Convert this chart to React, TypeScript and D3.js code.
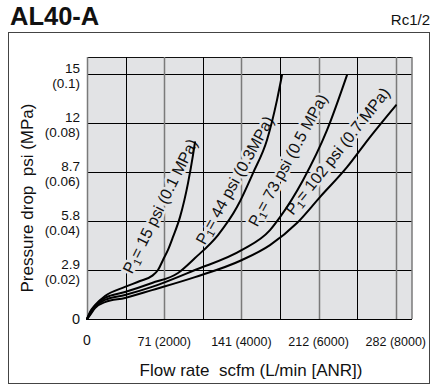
import React from "react";
import * as d3 from "d3";

const W = 431;
const H = 385;

// X: flow rate (L/min ANR), Y: pressure drop (MPa)
const xTicks = [0, 2000, 4000, 6000, 8000];
const xTickLabels = ["0", "71 (2000)", "141 (4000)", "212 (6000)", "282 (8000)"];
const xGrid = [1000, 2000, 3000, 4000, 5000, 6000, 7000, 8000];
const yTicks = [0, 0.02, 0.04, 0.06, 0.08, 0.1];
const yPsiLabels = ["0", "2.9", "5.8", "8.7", "12", "15"];
const yMpaLabels = ["", "(0.02)", "(0.04)", "(0.06)", "(0.08)", "(0.1)"];

const curveP01: [number, number][] = [
  [0, 0], [78, 0.0029], [207, 0.0057], [466, 0.0094], [984, 0.0131], [1373, 0.0155],
  [1684, 0.0176], [1839, 0.02], [1969, 0.0241], [2098, 0.0282], [2228, 0.0335],
  [2409, 0.0416], [2617, 0.0555], [2746, 0.0669], [2798, 0.0722],
];
const curveP03: [number, number][] = [
  [0, 0], [78, 0.0024], [207, 0.0053], [466, 0.0086], [984, 0.011], [1684, 0.0147],
  [2358, 0.0188], [2798, 0.0249], [3394, 0.0343], [3886, 0.0457], [4301, 0.0596],
  [4663, 0.0731], [4922, 0.0894], [5052, 0.0996],
];
const curveP05: [number, number][] = [
  [0, 0], [78, 0.002], [207, 0.0049], [466, 0.0078], [984, 0.0098], [1684, 0.0131],
  [2798, 0.02], [4016, 0.0282], [4741, 0.0363], [5000, 0.0416], [5596, 0.0567],
  [6218, 0.0771], [6736, 0.0996],
];
const curveP07: [number, number][] = [
  [0, 0], [78, 0.0016], [207, 0.0045], [466, 0.0069], [984, 0.0086], [1684, 0.0118],
  [2798, 0.0171], [4016, 0.0241], [4741, 0.0302], [5440, 0.0392], [6036, 0.0498],
  [6736, 0.062], [7332, 0.0743], [8005, 0.0873],
];
const curves = [curveP01, curveP03, curveP05, curveP07];

const labelPsi = ["15 psi (0.1 MPa)", "44 psi (0.3MPa)", "73 psi (0.5 MPa)", "102 psi (0.7 MPa)"];
const labelAt: [number, number][] = [
  [1890, 0.0461], [3822, 0.0567], [5200, 0.0649], [6490, 0.0686],
];
const labelAngle = [-63.5, -61, -61.5, -51.5];

const FONT = "'Liberation Sans', Arial, Helvetica, sans-serif";
const BG = "#e2e3e5";
const INK = "#111";

export default function App() {
  const x = d3.scaleLinear().domain([0, 8420]).range([87, 412]);
  const y = d3.scaleLinear().domain([0, 0.107]).range([319, 57]);
  const line = d3
    .line<[number, number]>()
    .x((d) => x(d[0]))
    .y((d) => y(d[1]))
    .curve(d3.curveMonotoneX);

  const [x0, x1] = x.range();
  const [y0, y1] = y.range();

  return (
    <svg
      width={W}
      height={H}
      style={{ position: "absolute", left: 0, top: 0, background: "#fff", fontFamily: FONT }}
    >
      <text x={10} y={25} fontFamily={FONT} fontSize={25.5} fontWeight="bold" fill={INK}>
        AL40-A
      </text>
      <text x={430} y={25} fontFamily={FONT} fontSize={15} textAnchor="end" fill={INK}>
        Rc1/2
      </text>
      <rect x={8.5} y={32.5} width={421} height={351} fill="none" stroke="#444" strokeWidth={1} />

      <rect x={x0} y={y1} width={x1 - x0} height={y0 - y1} fill={BG} />

      {yTicks.map((t) => (
        <line key={"h" + t} x1={x0} x2={x1} y1={Math.round(y(t)) + 0.5} y2={Math.round(y(t)) + 0.5} stroke="#000" strokeWidth={1} />
      ))}
      <line x1={x0} x2={x1} y1={y1 + 0.5} y2={y1 + 0.5} stroke="#111" strokeWidth={1} />
      {xGrid.map((t) => {
        const even = t % 2000 === 0;
        const px = Math.round(x(t)) + 0.5;
        return (
          <line key={"v" + t} x1={px} x2={px} y1={y1} y2={y0} stroke={even ? "#7a7a7a" : "#000"} strokeWidth={even ? 1.5 : 1} />
        );
      })}
      <line x1={x0 + 0.5} x2={x0 + 0.5} y1={y1} y2={y0} stroke="#7a7a7a" strokeWidth={1.5} />
      <line x1={x1} x2={x1} y1={y1} y2={y0} stroke="#7a7a7a" strokeWidth={1.5} />
      <line x1={x0} x2={x1} y1={y0 + 0.5} y2={y0 + 0.5} stroke="#000" strokeWidth={1.2} />

      {labelPsi.map((s, i) => {
        const [lx, ly] = labelAt[i];
        return (
          <text
            key={"l" + i}
            transform={`translate(${x(lx)},${y(ly)}) rotate(${labelAngle[i]})`}
            textAnchor="middle"
            dy="0.35em"
            fontFamily={FONT}
            fontSize={16}
            fill={INK}
            stroke={BG}
            strokeWidth={5}
            paintOrder="stroke"
            strokeLinejoin="round"
          >
            P<tspan fontSize={11} dy="3">1</tspan>
            <tspan dy="-3">= {s}</tspan>
          </text>
        );
      })}

      {curves.map((c, i) => (
        <path key={"c" + i} d={line(c) || ""} fill="none" stroke="#000" strokeWidth={2} strokeLinecap="round" />
      ))}

      {yTicks.map((t, i) =>
        i === 0 ? (
          <text key={"yl" + i} x={80} y={y(t)} dy="0.35em" textAnchor="end" fontFamily={FONT} fontSize={14.5} fill={INK}>
            {yPsiLabels[i]}
          </text>
        ) : (
          <g key={"yl" + i}>
            <text x={80} y={y(t) - 6} dy="0.35em" textAnchor="end" fontFamily={FONT} fontSize={13.5} fill={INK}>
              {yPsiLabels[i]}
            </text>
            <text x={80} y={y(t) + 9} dy="0.35em" textAnchor="end" fontFamily={FONT} fontSize={13.5} fill={INK}>
              {yMpaLabels[i]}
            </text>
          </g>
        )
      )}

      {xTicks.map((t, i) => (
        <text
          key={"xl" + i}
          x={x(t)}
          y={i === 0 ? 340 : 342}
          dy="0.35em"
          textAnchor="middle"
          fontFamily={FONT}
          fontSize={i === 0 ? 14 : 12.5}
          fill={INK}
        >
          {xTickLabels[i]}
        </text>
      ))}

      <text x={251} y={370} dy="0.35em" textAnchor="middle" fontFamily={FONT} fontSize={17} fill={INK}>
        Flow rate{"\u00a0\u00a0"}scfm (L/min [ANR])
      </text>
      <text
        transform={`translate(27,198) rotate(-90)`}
        dy="0.35em"
        textAnchor="middle"
        fontFamily={FONT}
        fontSize={17}
        fill={INK}
      >
        Pressure drop{"\u00a0\u00a0"}psi (MPa)
      </text>
    </svg>
  );
}
